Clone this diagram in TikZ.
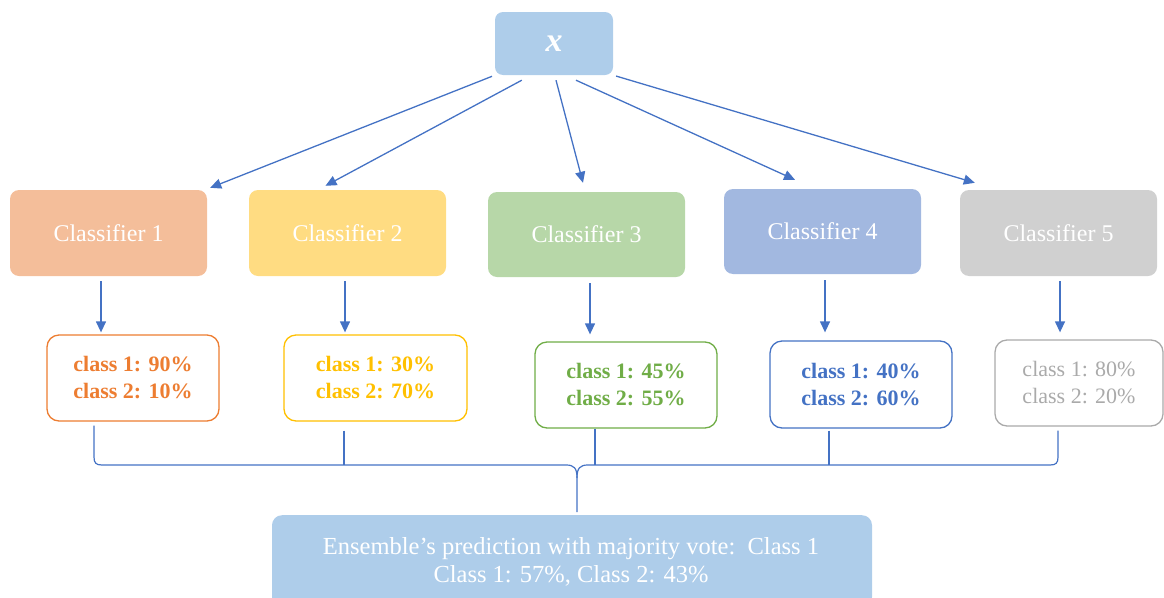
\documentclass[tikz,border=0pt]{standalone}
\usepackage{fontspec}
\setmainfont{Liberation Serif}
\usetikzlibrary{arrows.meta,calc}
\definecolor{boxblue}{RGB}{174,205,234}
\definecolor{cone}{RGB}{244,190,154}
\definecolor{ctwo}{RGB}{255,220,130}
\definecolor{cthree}{RGB}{183,215,168}
\definecolor{cfour}{RGB}{162,184,224}
\definecolor{cfive}{RGB}{208,208,208}
\definecolor{rone}{RGB}{237,125,49}
\definecolor{rtwo}{RGB}{255,192,0}
\definecolor{rthree}{RGB}{112,173,71}
\definecolor{rfour}{RGB}{68,114,196}
\definecolor{rfive}{RGB}{170,170,170}
\definecolor{lineblue}{RGB}{68,114,196}
\tikzset{
  clsbox/.style={rounded corners=9pt, draw=none, minimum width=197pt, minimum height=86pt,
    text=white, font=\fontsize{24}{28}\selectfont, inner sep=0pt},
  resbox/.style={rounded corners=12pt, line width=1.3pt, fill=white, minimum width=182pt,
    minimum height=86pt, align=center, font=\fontsize{22}{27}\selectfont\bfseries, inner sep=0pt},
  arr/.style={draw=lineblue, line width=1.3pt, -{Triangle[length=11pt,width=10pt]}},
  bracel/.style={draw=lineblue, line width=1.2pt},
}
\begin{document}
\begin{tikzpicture}[x=1pt,y=-1pt]
\useasboundingbox (0,0) rectangle (1164,597);
\clip (0,0) rectangle (1164,597);
% input
\node[rounded corners=8pt, fill=boxblue, minimum width=118pt, minimum height=63pt, inner sep=0pt,
  text=white, font=\fontsize{34}{34}\selectfont\bfseries\itshape] (x) at (554,43.5) {\raisebox{-3pt}{x}};
% classifiers
\node[clsbox, fill=cone] (c1) at (108.5,233) {Classifier 1};
\node[clsbox, fill=ctwo] (c2) at (347.5,233) {Classifier 2};
\node[clsbox, fill=cthree, minimum height=85pt] (c3) at (586.5,234.5) {Classifier 3};
\node[clsbox, fill=cfour, minimum height=85pt] (c4) at (822.5,231.5) {Classifier 4};
\node[clsbox, fill=cfive] (c5) at (1058.5,233) {Classifier 5};
% results
\node[resbox, draw=rone, text=rone, minimum width=172pt] (r1) at (133,378) {class 1: 90\%\\class 2: 10\%};
\node[resbox, draw=rtwo, text=rtwo, minimum width=183pt] (r2) at (375.5,378) {class 1: 30\%\\class 2: 70\%};
\node[resbox, draw=rthree, text=rthree] (r3) at (626,385) {class 1: 45\%\\class 2: 55\%};
\node[resbox, draw=rfour, text=rfour, minimum height=87pt] (r4) at (861,384.5) {class 1: 40\%\\class 2: 60\%};
\node[resbox, draw=rfive, text=rfive, minimum width=168pt, font=\fontsize{22}{27}\selectfont] (r5) at (1079,383) {class 1: 80\%\\class 2: 20\%};
% ensemble
\node[rounded corners=10pt, fill=boxblue, minimum width=600pt, minimum height=92pt, inner sep=0pt,
  anchor=north] (ens) at (572,515) {};
\node[text=white, align=center, font=\fontsize{24.5}{28}\selectfont, inner sep=0pt] (enstext) at (571,562)
  {Ensemble’s prediction with majority vote:\ \ Class 1\\Class 1: 57\%, Class 2: 43\%};
% top arrows
\draw[arr, shorten <=3pt] (x.south west) -- ($(c1.north east)+(3,-2)$);
\draw[arr] ($(x.south west)+(27,5)$) -- ($(c2.north)+(-22,-4)$);
\draw[arr] ($(x.south)+(2,5)$) -- ($(c3.north)+(-3.5,-9)$);
\draw[arr] ($(x.south)+(22,5)$) -- ($(c4.north)+(-27.5,-9)$);
\draw[arr, shorten <=3pt] (x.south east) -- ($(c5.north west)+(15,-7)$);
% down arrows
\draw[arr] ($(c1.south)+(-7.5,5)$) -- ($(r1.north)+(-32,-2)$);
\draw[arr] ($(c2.south)+(-2.5,5)$) -- ($(r2.north)+(-30.5,-2)$);
\draw[arr] ($(c3.south)+(3.5,6)$) -- ($(r3.north)+(-36,-7)$);
\draw[arr] ($(c4.south)+(2.5,6)$) -- ($(r4.north)+(-36,-8)$);
\draw[arr] ($(c5.south)+(1.5,5)$) -- ($(r5.north)+(-19,-7)$);
% brace
\draw[bracel] ($(r1.south)+(-39,4)$) -- (94,457) .. controls (94,463) and (96,465) .. (102,465)
  -- (566,465) .. controls (574,465) and (577,468) .. (577,478) -- (577,512);
\draw[bracel] ($(r5.south)+(-21,4)$) -- (1058,457) .. controls (1058,463) and (1056,465) .. (1050,465)
  -- (588,465) .. controls (580,465) and (577,468) .. (577,478);
\draw[bracel] ($(r2.south)+(-31.5,9)$) -- (344,465);
\draw[bracel] ($(r3.south)+(-31,0)$) -- (595,465);
\draw[bracel] ($(r4.south)+(-32,2)$) -- (829,465);
\end{tikzpicture}
\end{document}
